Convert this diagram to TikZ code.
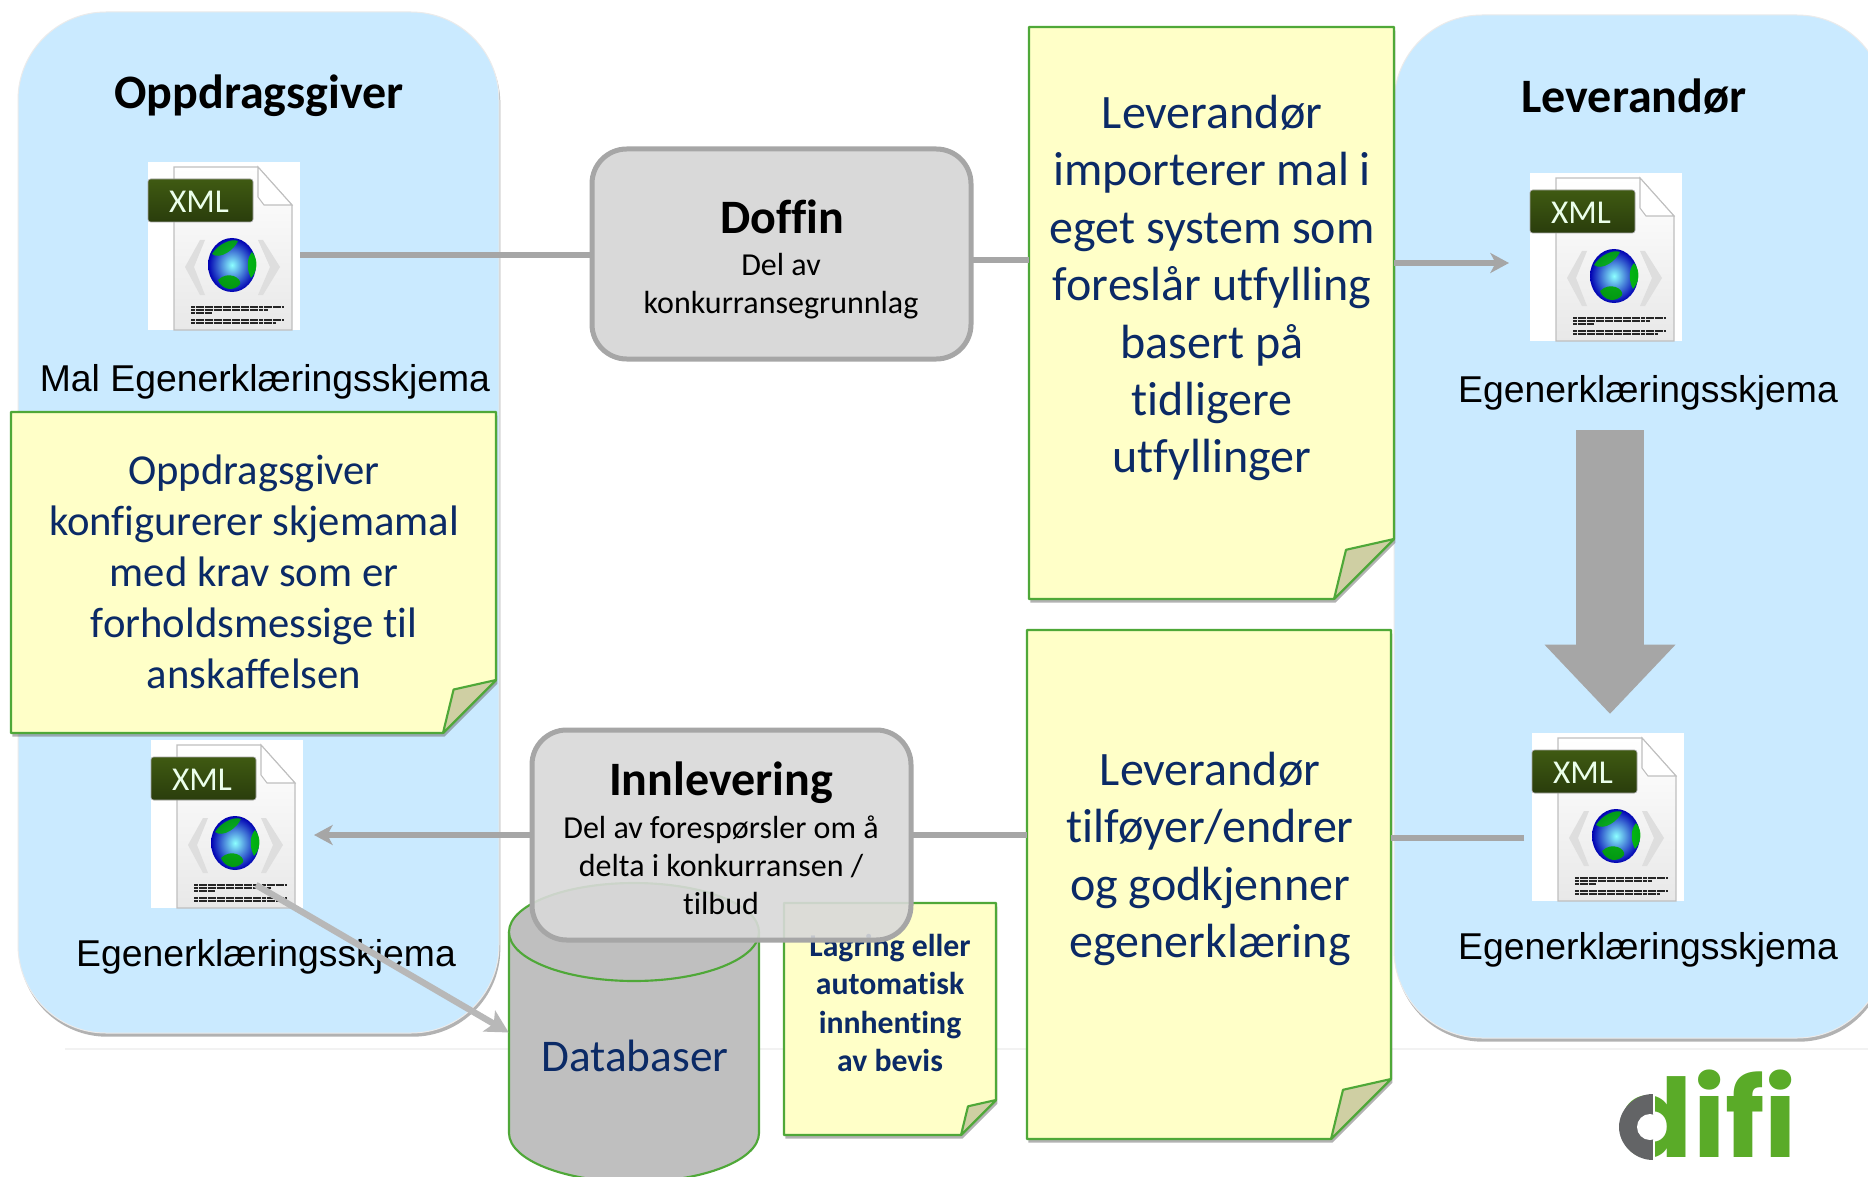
\documentclass[tikz,border=0pt]{standalone}
\usepackage{fontspec}
\setmainfont{Carlito}[Ligatures=CommonOff]
\newfontfamily\arialfont{Liberation Sans}
\newfontfamily\logofont{Poppins}
\usetikzlibrary{arrows.meta,fit,shadows,calc}
\definecolor{panelblue}{HTML}{CAEAFF}
\definecolor{noteyellow}{HTML}{FFFFC8}
\definecolor{notegreen}{HTML}{4FA838}
\definecolor{foldcol}{HTML}{CFCFA3}
\definecolor{navy}{HTML}{0B2A66}
\definecolor{connGrey}{HTML}{A6A6A6}
\definecolor{boxGrey}{HTML}{D9D9D9}
\definecolor{dbGrey}{HTML}{BFBFBF}
\definecolor{logoGreen}{HTML}{5AAB28}
\definecolor{logoGrey}{HTML}{636466}
\definecolor{tagTop}{HTML}{3F5A12}
\definecolor{tagBottom}{HTML}{2A3D0C}
\tikzset{
  softshadow/.style={drop shadow={shadow xshift=1pt,shadow yshift=-2.8pt,opacity=.5,fill=black!60}},
  panel/.style={inner sep=0pt,fill=panelblue,draw=white!92!black,line width=.75pt,rounded corners=66pt,softshadow},
  greybox/.style={inner sep=0pt,fill=boxGrey,draw=connGrey,line width=3.75pt,rounded corners=26pt},
  ghost/.style={inner sep=0pt},
  conn/.style={draw=connGrey,line width=4.2pt},
  connarrow/.style={conn,-{Stealth[length=14pt,width=15pt,inset=4pt]}},
  heading/.style={font=\fontsize{36}{42}\selectfont\bfseries,text=black},
  sublabel/.style={font=\fontsize{24}{28.5}\selectfont,text=black,align=center},
  formlabel/.style={font=\arialfont\fontsize{28}{32}\selectfont,text=black},
  notetext/.style={text=navy,align=center},
}
\newcommand{\notebox}[6]{%
  \pgfmathsetmacro{\nbA}{#4-#6}%
  \pgfmathsetmacro{\nbB}{#5-#6}%
  \pgfmathsetmacro{\nbC}{#4-0.8*#6}%
  \path[fill=noteyellow,draw=notegreen,line width=1.6pt,line join=round,softshadow]
    (#2,#3) -- (#4,#3) -- (#4,\nbB) -- (\nbA,#5) -- (#2,#5) -- cycle;
  \path[fill=foldcol,draw=notegreen,line width=1.6pt,line join=round]
    (\nbA,#5) -- (\nbC,\nbB+0.18*#6) -- (#4,\nbB) -- cycle;
  \node[ghost,fit={(#2,#3)(#4,#5)}] (#1) {};
}
\newcommand{\xmlicon}[3]{%
  \node[ghost,fit={(#2,#3)(#2+152,#3+168)},fill=white] (#1) {};
  \begin{scope}[shift={(#2,#3)}]
    \path[top color=white,bottom color=black!9,draw=black!25,line width=.8pt]
      (26,5) -- (110,5) -- (144,43) -- (144,168) -- (26,168) -- cycle;
    \path[fill=white,draw=black!25,line width=.8pt] (110,5) -- (110,35) -- (116,43) -- (144,43) -- cycle;
    \path[fill=black!13] (52,78) -- (37,105) -- (52,133) -- (57,133) -- (46,105) -- (57,78) -- cycle;
    \path[fill=black!13] (115,78) -- (132,105) -- (115,133) -- (110,133) -- (122,105) -- (110,78) -- cycle;
    \shade[inner color=cyan!45!white,outer color=blue!70!black] (84,103) circle[x radius=24,y radius=27];
    \path[fill=green!65!black,opacity=.9] (70,118) .. controls (80,108) and (94,116) .. (92,122) .. controls (86,130) and (74,128) .. (70,118) -- cycle;
    \path[fill=green!75!black,opacity=.9] (104,90) .. controls (111,98) and (109,110) .. (103,116) .. controls (98,106) and (99,96) .. (104,90) -- cycle;
    \path[fill=green!70!black,opacity=.85] (64,92) .. controls (70,82) and (84,76) .. (90,79) .. controls (86,88) and (72,98) .. (64,92) -- cycle;
    \foreach \ya/\xb in {145/136,148/120,151/64,158/136,161/128}{
      \path[draw=black!85,line width=1.1pt,dash pattern=on 3pt off .4pt] (43,\ya) -- (\xb,\ya);
    }
    \path[top color=tagTop,bottom color=tagBottom,draw=black!35,line width=.5pt,rounded corners=2pt]
      (0,17) rectangle (105,60);
    \node[ghost,text=white!92!green,font=\fontsize{25}{30}\selectfont] (#1t) at (51,40) {XML};
  \end{scope}
}
\begin{document}
\begin{tikzpicture}[x=.75pt,y=-.75pt]
\clip (0,0) rectangle (1868,1177);
\fill[white] (0,0) rectangle (1868,1177);
\coordinate (faintA) at (65,1049);
\coordinate (faintB) at (1868,1049);
\draw[black!5,line width=.8pt] (faintA) -- (faintB);

% panels
\node[panel,fit={(18,12)(499,1033)}] (left) {};
\node[panel,fit={(1394,15)(1885,1038)}] (right) {};
\node[heading] (t1) at (259,96) {Oppdragsgiver};
\node[heading] (t2) at (1634,97) {Leverandør};

% icons
\xmlicon{ia}{148}{162}
\xmlicon{ib}{1530}{173}
\xmlicon{ic}{151}{740}
\xmlicon{id}{1532}{733}

\node[formlabel] (la) at (265,382) {Mal Egenerklæringsskjema};
\node[formlabel] (lb) at (1648,393) {Egenerklæringsskjema};
\node[formlabel] (lc) at (266,957) {Egenerklæringsskjema};
\node[formlabel] (ld) at (1648,950) {Egenerklæringsskjema};

% database
\node[ghost,fit={(509,883)(759,1182)}] (db) {};
\path[fill=dbGrey,draw=notegreen,line width=1.6pt] (509,932) -- (509,1133)
  .. controls (509,1160) and (565,1182) .. (634,1182)
  .. controls (703,1182) and (759,1160) .. (759,1133) -- (759,932);
\path[fill=dbGrey,draw=notegreen,line width=1.6pt] (634,932) ellipse[x radius=125,y radius=49];
\node[notetext,font=\fontsize{34}{40}\selectfont] (dbt) at (635,1056) {Databaser};

% notes
\notebox{na}{11}{412}{496}{733}{53}
\node[notetext,font=\fontsize{32}{38.3}\selectfont] (nat) at (254,572) {Oppdragsgiver\\konfigurerer skjemamal\\med krav som er\\forholdsmessige til\\anskaffelsen};
\notebox{nb}{1029}{27}{1394}{599}{60}
\node[notetext,font=\fontsize{36}{43.1}\selectfont] (nbt) at (1212,288) {Leverandør\\importerer mal i\\eget system som\\foreslår utfylling\\basert på\\tidligere\\utfyllinger};
\notebox{nc}{1027}{630}{1391}{1139}{60}
\node[notetext,font=\fontsize{36}{43.1}\selectfont] (nct) at (1210,859) {Leverandør\\tilføyer/endrer\\og godkjenner\\egenerklæring};
\notebox{nd}{784}{903}{996}{1135}{35}
\node[notetext,font=\fontsize{23.8}{28.7}\selectfont\bfseries] (ndt) at (890,1003) {Lagring eller\\automatisk\\innhenting\\av bevis};

% connectors
\draw[conn] (ia.east |- 0,255) -- (592,255) coordinate (doffinW);
\draw[conn] (971,260) coordinate (doffinE) -- (nb.west |- 0,260);
\coordinate (ibgap) at (1509,263);
\draw[connarrow] (nb.east |- ibgap) -- (ibgap);
\coordinate (arrowTop) at (1610,430);
\coordinate (arrowTip) at (1610,714);
\draw[draw=connGrey,fill=connGrey,line width=50.5pt,-{Triangle[length=52pt,width=95pt]}] (arrowTop) -- (arrowTip);
\coordinate (idgap) at (1524,838);
\draw[conn] (idgap) -- (nc.east |- idgap);
\coordinate (icgap) at (314,835);
\draw[conn] (nc.west |- 0,835) -- (911,835);
\draw[connarrow] (532,835) -- (icgap);
\coordinate (icglobe) at (256,885);
\draw[conn,draw=black!28,line width=4.8pt,-{Stealth[length=17pt,width=18pt,inset=4pt]}] (icglobe) -- (db.west);

% grey boxes
\node[greybox,fit={(592,149)(971,359)}] (doffin) {};
\node[heading] (doffint) at (782,217) {Doffin};
\node[sublabel] (doffins) at (781,286) {Del av\\konkurransegrunnlag};
\node[greybox,fit={(532,730)(911,940)},fill opacity=.9,draw opacity=1] (innl) {};
\node[heading] (innlt) at (721,783) {Innlevering};
\node[sublabel] (innls) at (721,865) {Del av forespørsler om å\\delta i konkurransen /\\tilbud};

% logo
\node[ghost,text=logoGreen,font=\logofont\bfseries\fontsize{82}{90}\selectfont,anchor=base,text depth=0pt] (logo) at (1708,1157) {difi};
\path[fill=logoGrey] (1653,1094) .. controls (1634,1094) and (1619,1110) .. (1619,1127)
  .. controls (1619,1144) and (1634,1160) .. (1653,1160) -- cycle;
\path[fill=white] (1650,1127) circle[radius=13];
\draw[white,line width=1.2pt] (1654,1092) -- (1654,1114);
\draw[white,line width=1.2pt] (1654,1140) -- (1654,1162);
\end{tikzpicture}
\end{document}
